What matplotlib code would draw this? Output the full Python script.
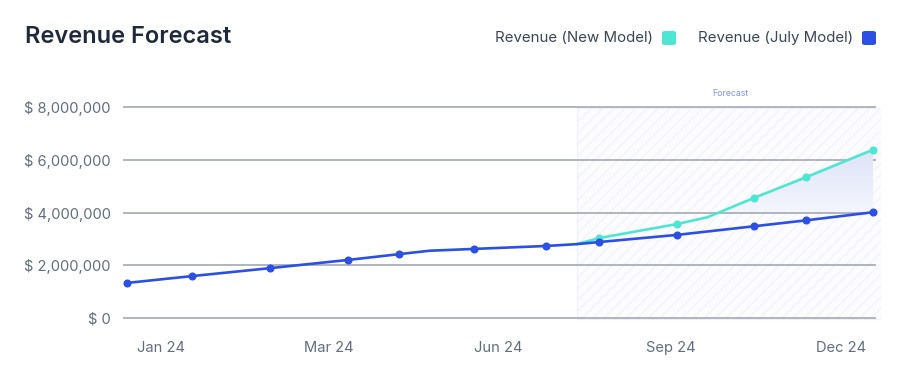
import matplotlib
matplotlib.use("Agg")
import matplotlib.pyplot as plt
import numpy as np
from matplotlib.patches import Rectangle, FancyBboxPatch
from matplotlib.colors import LinearSegmentedColormap

plt.rcParams['font.family'] = ['Inter', 'DejaVu Sans']

# ---- data ----
# day offsets from start of year (approximate)
july_days = [0, 32, 70, 108, 133, 148, 170, 205, 220, 231, 269, 307, 332, 365]
july_rev = [1.33e6, 1.59e6, 1.89e6, 2.20e6, 2.42e6, 2.55e6, 2.62e6, 2.73e6, 2.80e6,
            2.88e6, 3.15e6, 3.48e6, 3.70e6, 4.01e6]
july_marked = [0, 1, 2, 3, 4, 6, 7, 9, 10, 11, 12, 13]

new_days = [220, 231, 269, 284, 307, 332, 365]
new_rev = [2.80e6, 3.03e6, 3.56e6, 3.82e6, 4.56e6, 5.33e6, 6.38e6]
new_marked = [1, 2, 4, 5, 6]

tick_days = [16.6, 98.8, 181.5, 266.1, 349.3]
tick_labels = ['Jan 24', 'Mar 24', 'Jun 24', 'Sep 24', 'Dec 24']
y_ticks = [0, 2e6, 4e6, 6e6, 8e6]
y_labels = ['$ 0', '$ 2,000,000', '$ 4,000,000', '$ 6,000,000', '$ 8,000,000']
forecast_start = 220
fill_base = 4e6

BLUE = '#2b50e3'
TEAL = '#4ee6d2'
GRID = '#a3a8b3'
TXT = '#626e80'

W, H = 898, 376
fig = plt.figure(figsize=(W / 100, H / 100), dpi=100)
fig.patch.set_facecolor('white')

px_per_day = (873 - 127) / 365.0
ax_l, ax_r, ax_t, ax_b = 123, 881, 100, 322
ax = fig.add_axes([ax_l / W, (H - ax_b) / H, (ax_r - ax_l) / W, (ax_b - ax_t) / H])
x0 = (ax_l - 127) / px_per_day
x1 = (ax_r - 127) / px_per_day
ax.set_xlim(x0, x1)
pxM = (318 - 107) / 8.0
ax.set_ylim((318 - ax_b) / pxM * 1e6, (318 - ax_t) / pxM * 1e6)

for s in ax.spines.values():
    s.set_visible(False)

# gridlines
grid_end = (876 - 127) / px_per_day
for v in y_ticks:
    ax.plot([x0, grid_end], [v, v], color=GRID, lw=1.2, zorder=1, solid_capstyle='butt')

# forecast hatched area
plt.rcParams['hatch.linewidth'] = 0.7
plt.rcParams['hatch.color'] = '#dce2f6'
rect = Rectangle((forecast_start, -0.04e6), x1 - forecast_start - 0.2, 8.0e6,
                 facecolor='#fcfcff', edgecolor='#eef1fb', hatch='///', lw=0.8, zorder=0.5)
ax.add_patch(rect)
ax.text((730 - 127) / px_per_day, (318 - 93) / pxM * 1e6, 'Forecast', color='#7b93e6',
        fontsize=6.3, ha='center', va='center')

# gradient fill between new model and baseline
nd = np.array(new_days, dtype=float)
nr = np.array(new_rev)
poly = ax.fill_between(nd, nr, fill_base, where=nr >= fill_base, interpolate=True,
                       facecolor='none', edgecolor='none', zorder=1.5)
grad = np.linspace(0, 1, 256).reshape(-1, 1)
cmap = LinearSegmentedColormap.from_list('g', ['#f4f6fd', '#dde3f8'])
im = ax.imshow(grad, extent=[nd[0], nd[-1], fill_base, max(new_rev)], origin='lower',
               aspect='auto', cmap=cmap, zorder=1.6)
paths = poly.get_paths()
if paths:
    im.set_clip_path(paths[0], transform=ax.transData)

# lines
ax.plot(new_days, new_rev, color=TEAL, lw=1.9, marker='o', ms=4.8, markevery=new_marked,
        zorder=3, solid_capstyle='round')
ax.plot(july_days, july_rev, color=BLUE, lw=1.9, marker='o', ms=4.8, markevery=july_marked,
        zorder=4, solid_capstyle='round')

ax.set_yticks(y_ticks)
ax.set_yticklabels(y_labels)
ax.set_xticks(tick_days)
ax.set_xticklabels(tick_labels)
ax.tick_params(axis='both', length=0, colors=TXT, labelsize=10.6)
ax.tick_params(axis='y', pad=9)
ax.tick_params(axis='x', pad=14)

# title
fig.text(25 / W, 1 - 37 / H, 'Revenue Forecast', fontsize=17, fontweight='semibold',
         color='#1e2a3b', ha='left', va='center')

# legend
def legend_item(text_right, sw_left, color, label):
    fig.text(text_right / W, 1 - 38 / H, label, fontsize=10.8, color='#3a4556',
             ha='right', va='center')
    sw = FancyBboxPatch((sw_left / W, 1 - 45 / H), 14 / W, 14 / H,
                        boxstyle='round,pad=0,rounding_size=0.004', transform=fig.transFigure,
                        facecolor=color, edgecolor='none')
    fig.add_artist(sw)

legend_item(653, 662, TEAL, 'Revenue (New Model)')
legend_item(853, 862, BLUE, 'Revenue (July Model)')

fig.savefig('out.png', dpi=100, facecolor='white')
